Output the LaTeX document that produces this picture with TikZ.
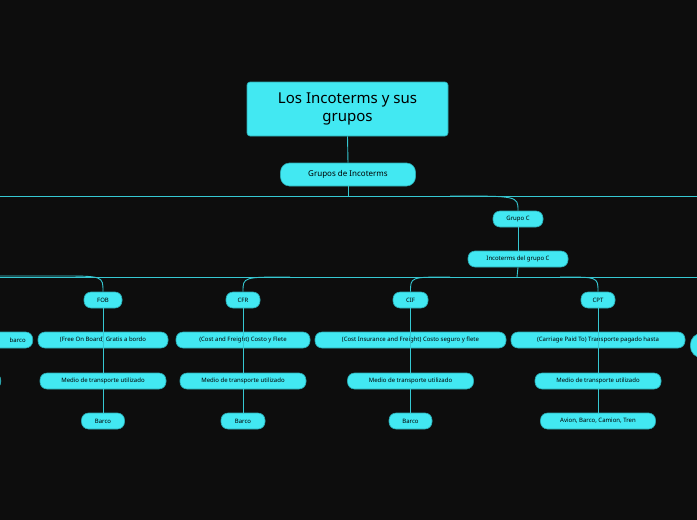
\documentclass[tikz,border=0pt]{standalone}
\usepackage{fontspec}
\setmainfont{Noto Sans}
\begin{document}
\begin{tikzpicture}[x=1pt,y=-1pt,
  box/.style={fill=cyanc,draw=cyand,line width=0.6pt,rounded corners=7pt,inner sep=0pt,minimum height=16pt,font=\bfseries\fontsize{6}{7}\selectfont,text=black},
  ln/.style={draw=cyanl,line width=0.9pt}]
\definecolor{cyanc}{HTML}{42E8F2}
\definecolor{cyand}{HTML}{2AA8B0}
\definecolor{cyanl}{HTML}{36C8D2}
\fill[black!95] (0,0) rectangle (697,520);
\useasboundingbox (0,0) rectangle (697,520);
% connectors first
\coordinate (h1) at (348,196);
\coordinate (h2) at (517,277);
\draw[ln] (0,196) -- (697,196);
\draw[ln] (0,277) -- (697,277);
\node[box,minimum width=201pt,minimum height=54pt,rounded corners=3pt,font=\bfseries\fontsize{15}{18}\selectfont,align=center] (t) at (347.5,109) {Los Incoterms y sus\\grupos};
\node[box,minimum width=135pt,minimum height=23pt,rounded corners=9pt,font=\fontsize{8}{9}\selectfont] (g) at (348,174.5) {Grupos de Incoterms};
\node[box,minimum width=50pt] (gc) at (518,219) {Grupo C};
\node[box,minimum width=100pt] (ic) at (518,259) {Incoterms del grupo C};
\foreach \n/\x/\w/\t in {fob/103/38/FOB, cfr/243/34/CFR, cif/410.5/35/CIF, cpt/598/34/CPT}
  \node[box,minimum width=\w pt] (\n) at (\x,300) {\t};
\node[box,minimum width=130pt] (d1) at (103,340) {(Free On Board) Gratis a bordo};
\node[box,minimum width=134pt] (d2) at (243,340) {(Cost and Freight) Costo y Flete};
\node[box,minimum width=191pt] (d3) at (410.5,340) {(Cost Insurance and Freight) Costo seguro y flete};
\node[box,minimum width=174pt] (d4) at (598,340) {(Carriage Paid To) Transporte pagado hasta};
\foreach \n/\x in {m1/103,m2/243,m3/410.5,m4/598}
  \node[box,minimum width=126pt] (\n) at (\x,381) {Medio de transporte utilizado};
\node[box,minimum width=43pt] (b1) at (103,421) {Barco};
\node[box,minimum width=44pt] (b2) at (243,421) {Barco};
\node[box,minimum width=43pt] (b3) at (410.5,421) {Barco};
\node[box,minimum width=115pt] (b4) at (598,421) {Avion, Barco, Camion, Tren};
% partial nodes at edges
\node[box,minimum width=60pt,anchor=east] (pl) at (33,340) {\hspace*{30pt}barco};
\node[box,minimum width=20pt,anchor=east] (pl2) at (1,381) {};
\node[box,minimum width=30pt,minimum height=25pt,rounded corners=12pt,anchor=west] (pr) at (690,345.5) {};
% connectors
\draw[ln] (t.south) -- (g.north);
\draw[ln] (g.south) -- (h1);
\draw[ln] (450,196) .. controls (518,196) .. (gc.north);
\draw[ln] (gc.south) -- (ic.north);
\draw[ln] (ic.south) -- (h2);
\draw[ln] (0,276) -- (60,276) .. controls (103,276) .. (fob.north);
\draw[ln] (290,277) .. controls (243,277) .. (cfr.north);
\draw[ln] (450,277) .. controls (410.5,277) .. (cif.north);
\draw[ln] (560,277) .. controls (598,277) .. (cpt.north);
\foreach \a/\b in {fob/m1,cfr/m2,cif/m3,cpt/m4}
  \draw[ln] (\a.south) -- (\b.north);
\foreach \a/\b in {m1/b1,m2/b2,m3/b3,m4/b4}
  \draw[ln] (\a.south) -- (\b.north);
% redraw boxes on top of lines
\foreach \n in {d1,d2,d3,d4,m1,m2,m3,m4}
  \path (\n);
\end{tikzpicture}
\end{document}
